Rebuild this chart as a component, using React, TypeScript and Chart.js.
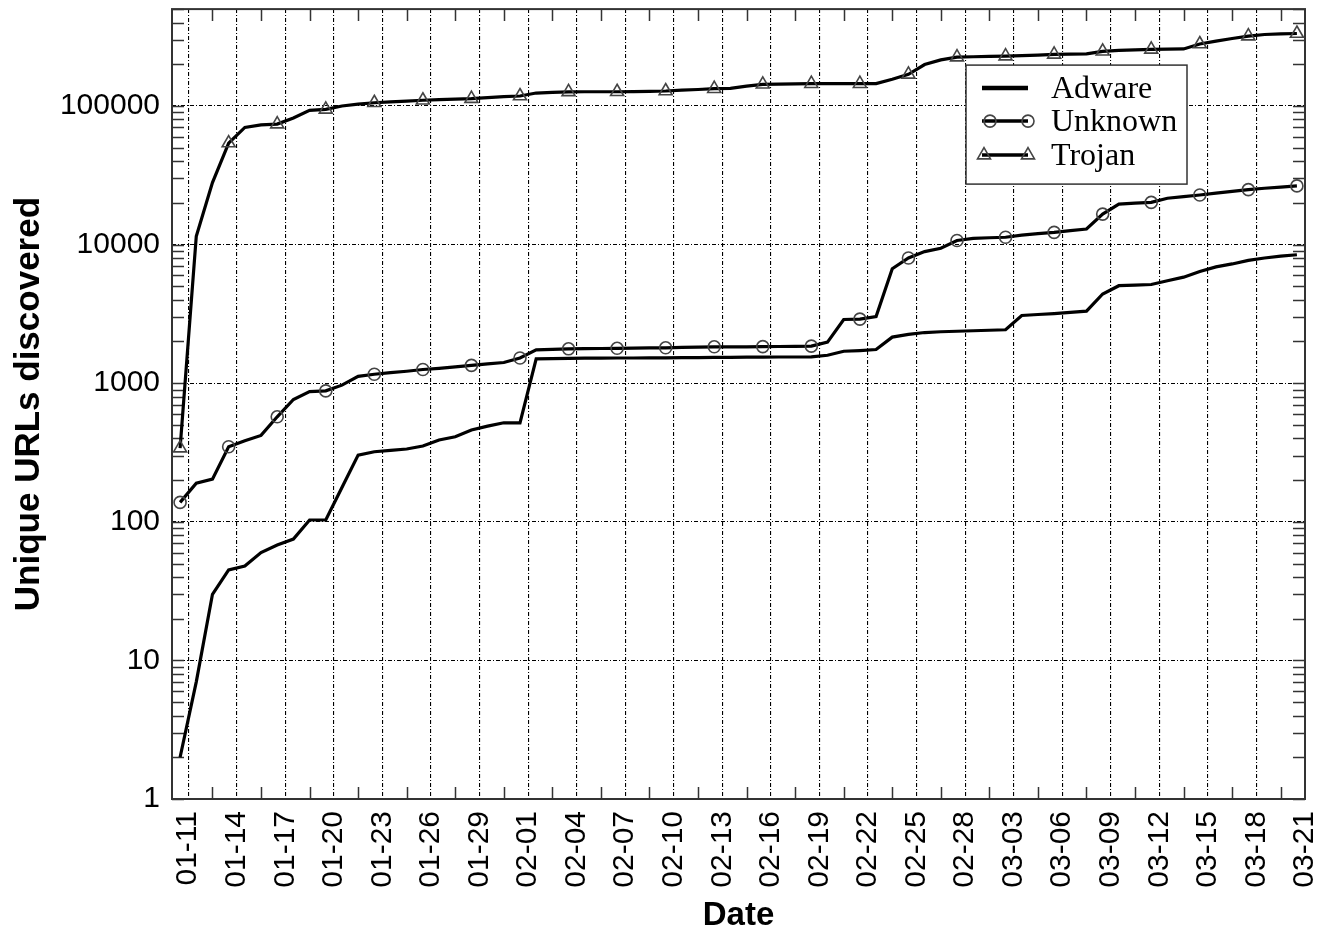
import React, { useEffect, useRef } from 'react';
import { Chart, registerables } from 'chart.js';

Chart.register(...registerables);

// Tick labels on the x axis (every 3rd day, day index 0 = 01-11)
const tickLabels = [
  '01-11', '01-14', '01-17', '01-20', '01-23', '01-26', '01-29', '02-01',
  '02-04', '02-07', '02-10', '02-13', '02-16', '02-19', '02-22', '02-25',
  '02-28', '03-03', '03-06', '03-09', '03-12', '03-15', '03-18', '03-21',
];

const yTickValues = [1, 10, 100, 1000, 10000, 100000];

const seriesNames = ['Adware', 'Unknown', 'Trojan'];

// daily cumulative counts, 70 days
const adware = [
  2, 7, 30, 45, 48, 60, 68, 75, 103, 103,
  177, 303, 320, 328, 335, 352, 389, 411, 459, 490,
  518, 518, 1500, 1505, 1510, 1515, 1515, 1520, 1520, 1525,
  1525, 1530, 1530, 1535, 1535, 1540, 1540, 1545, 1545, 1550,
  1590, 1700, 1720, 1750, 2150, 2250, 2320, 2350, 2370, 2390,
  2410, 2430, 3080, 3130, 3180, 3240, 3310, 4400, 5050, 5100,
  5150, 5480, 5820, 6400, 6900, 7250, 7700, 8000, 8250, 8450,
];

const unknown = [
  138, 190, 203, 348, 385, 420, 572, 763, 870, 880,
  968, 1120, 1160, 1190, 1220, 1255, 1280, 1310, 1345, 1380,
  1410, 1520, 1740, 1755, 1770, 1775, 1780, 1785, 1790, 1795,
  1800, 1810, 1820, 1830, 1830, 1830, 1835, 1840, 1845, 1850,
  1980, 2880, 2900, 3030, 6700, 8000, 8900, 9400, 10700, 11100,
  11200, 11300, 11700, 12000, 12250, 12600, 12950, 16600, 19600, 19900,
  20150, 21600, 22200, 22800, 23500, 24200, 24900, 25500, 26000, 26500,
];

const trojan = [
  340, 11500, 28000, 54000, 70000, 73000, 74000, 82000, 93000, 94500,
  100000, 103000, 105500, 107000, 108500, 110000, 111000, 112000, 113000, 115000,
  117000, 118000, 124000, 125500, 126500, 126700, 126700, 126700, 127000, 127500,
  128300, 130000, 131500, 133300, 134000, 139000, 143300, 144000, 144500, 144800,
  144800, 144800, 144800, 145000, 156000, 169000, 199000, 215000, 225000, 226500,
  228000, 229000, 231000, 233000, 235500, 236500, 237500, 248000, 252000, 254000,
  256000, 257000, 258000, 280000, 294000, 307000, 319000, 328000, 331000, 333500,
];

// samples taken at mid-day: shift half a day left of the date tick
const toPoints = (vals: number[]) => vals.map((v, i) => ({ x: i - 0.5, y: v }));

const FRAME = '#333333';
const MARKER = '#444444';
const CIRCLE_R = 6;
const TRI_R = 7.5;

const drawCircle = (ctx: CanvasRenderingContext2D, x: number, y: number, r: number) => {
  ctx.beginPath();
  ctx.arc(x, y, r, 0, Math.PI * 2);
  ctx.stroke();
};
const drawTriangle = (ctx: CanvasRenderingContext2D, x: number, y: number, r: number) => {
  ctx.beginPath();
  const a = -Math.PI / 2;
  ctx.moveTo(x + Math.cos(a) * r, y + Math.sin(a) * r);
  ctx.lineTo(x + Math.cos(a + (2 * Math.PI) / 3) * r, y + Math.sin(a + (2 * Math.PI) / 3) * r);
  ctx.lineTo(x + Math.cos(a + (4 * Math.PI) / 3) * r, y + Math.sin(a + (4 * Math.PI) / 3) * r);
  ctx.closePath();
  ctx.stroke();
};

const framePlugin = {
  id: 'frameAndLegend',
  beforeDatasetsDraw(chart: any) {
    const { ctx, chartArea: a, scales } = chart;
    const xs = scales.x;
    const ys = scales.y;
    ctx.save();
    ctx.strokeStyle = FRAME;
    ctx.lineWidth = 1.5;
    ctx.setLineDash([]);
    ctx.beginPath();
    // log minor ticks on left and right edges
    for (let d = 1; d <= 100000; d *= 10) {
      for (let k = 1; k <= 9; k++) {
        const v = d * k;
        if (v > ys.max) continue;
        const py = Math.round(ys.getPixelForValue(v)) + 0.5;
        ctx.moveTo(a.left, py);
        ctx.lineTo(a.left + 12, py);
        ctx.moveTo(a.right, py);
        ctx.lineTo(a.right - 12, py);
      }
    }
    // x minor ticks midway between labelled days
    for (let k = 0; k < tickLabels.length - 1; k++) {
      const px = Math.round(xs.getPixelForValue(k * 3 + 1.5)) + 0.5;
      ctx.moveTo(px, a.top);
      ctx.lineTo(px, a.top + 12);
      ctx.moveTo(px, a.bottom);
      ctx.lineTo(px, a.bottom - 12);
    }
    ctx.stroke();
    ctx.lineWidth = 2;
    ctx.strokeRect(a.left, a.top, a.right - a.left, a.bottom - a.top);
    ctx.restore();
  },
  afterDraw(chart: any) {
    const { ctx, chartArea: a } = chart;
    const bx = a.right - 339;
    const by = a.top + 56;
    const bw = 221;
    const bh = 119;
    ctx.save();
    ctx.fillStyle = '#ffffff';
    ctx.fillRect(bx, by, bw, bh);
    ctx.strokeStyle = FRAME;
    ctx.lineWidth = 1.5;
    ctx.strokeRect(bx, by, bw, bh);
    const rows = [by + 23, by + 56, by + 90];
    const x1 = bx + 16;
    const x2 = bx + 62;
    seriesNames.forEach((name, i) => {
      const y = rows[i];
      ctx.strokeStyle = '#000';
      ctx.lineWidth = i === 0 ? 4.5 : 3.5;
      ctx.beginPath();
      ctx.moveTo(x1, y);
      ctx.lineTo(x2, y);
      ctx.stroke();
      ctx.strokeStyle = MARKER;
      ctx.lineWidth = 1.6;
      if (i === 1) {
        drawCircle(ctx, x1 + 8, y, CIRCLE_R);
        drawCircle(ctx, x2, y, CIRCLE_R);
      } else if (i === 2) {
        drawTriangle(ctx, x1 + 2, y, TRI_R);
        drawTriangle(ctx, x2, y, TRI_R);
      }
      ctx.fillStyle = '#000';
      ctx.font = '32px "Liberation Serif", "Times New Roman", serif';
      ctx.textBaseline = 'middle';
      ctx.textAlign = 'left';
      ctx.fillText(name, bx + 85, y + 1);
    });
    ctx.restore();
  },
};

export default function App() {
  const ref = useRef<HTMLCanvasElement>(null);

  useEffect(() => {
    if (!ref.current) return;
    const markerRadius = (r: number) => (c: any) => (c.dataIndex % 3 === 0 ? r : 0);
    const chart = new Chart(ref.current, {
      type: 'line',
      data: {
        datasets: [
          {
            label: seriesNames[0],
            data: toPoints(adware),
            borderColor: '#000',
            borderWidth: 3.2,
            pointRadius: 0,
            tension: 0,
          },
          {
            label: seriesNames[1],
            data: toPoints(unknown),
            borderColor: '#000',
            borderWidth: 3.2,
            pointStyle: 'circle',
            pointRadius: markerRadius(CIRCLE_R),
            pointBorderColor: MARKER,
            pointBorderWidth: 1.6,
            pointBackgroundColor: 'rgba(0,0,0,0)',
            tension: 0,
          },
          {
            label: seriesNames[2],
            data: toPoints(trojan),
            borderColor: '#000',
            borderWidth: 3.2,
            pointStyle: 'triangle',
            pointRadius: markerRadius(TRI_R),
            pointBorderColor: MARKER,
            pointBorderWidth: 1.6,
            pointBackgroundColor: 'rgba(0,0,0,0)',
            tension: 0,
          },
        ],
      },
      options: {
        responsive: false,
        devicePixelRatio: 1,
        animation: false,
        events: [],
        layout: { padding: { left: 0, top: 7, right: 16, bottom: 0 } },
        plugins: {
          legend: { display: false },
          tooltip: { enabled: false },
        },
        scales: {
          x: {
            type: 'linear',
            min: -1,
            max: 69,
            afterBuildTicks: (s: any) => {
              s.ticks = tickLabels.map((_, k) => ({ value: k * 3 }));
            },
            afterFit: (s: any) => {
              s.height = 134;
              s.paddingLeft = 0;
              s.paddingRight = 0;
            },
            ticks: {
              autoSkip: false,
              maxRotation: 90,
              minRotation: 90,
              padding: 12,
              color: '#000',
              font: { family: '"Liberation Sans", Arial, sans-serif', size: 30 },
              callback: (_v: any, i: number) => tickLabels[i],
            },
            grid: { color: '#000', lineWidth: 1.1, drawTicks: false },
            border: { display: false, dash: [4, 2, 1, 2] },
            title: {
              display: true,
              text: 'Date',
              color: '#000',
              font: { family: '"Liberation Sans", Arial, sans-serif', size: 33, weight: 'bold', lineHeight: 1 },
              padding: { top: 0, bottom: 1 },
            },
          },
          y: {
            type: 'logarithmic',
            min: 1,
            max: 500000,
            afterBuildTicks: (s: any) => {
              s.ticks = yTickValues.map((v) => ({ value: v }));
            },
            afterFit: (s: any) => {
              s.width = 172;
              s.paddingTop = 0;
              s.paddingBottom = 0;
            },
            ticks: {
              autoSkip: false,
              padding: 12,
              color: '#000',
              font: { family: '"Liberation Sans", Arial, sans-serif', size: 30 },
              callback: (v: any) => String(v),
            },
            grid: { color: '#000', lineWidth: 1.1, drawTicks: false },
            border: { display: false, dash: [4, 2, 1, 2] },
            title: {
              display: true,
              text: 'Unique URLs discovered',
              color: '#000',
              font: { family: '"Liberation Sans", Arial, sans-serif', size: 35, weight: 'bold', lineHeight: 1 },
              padding: { top: 12, bottom: 0 },
            },
          },
        },
      },
      plugins: [framePlugin],
    } as any);
    return () => chart.destroy();
  }, []);

  return (
    <canvas
      ref={ref}
      width={1321}
      height={933}
      style={{ position: 'absolute', left: 0, top: 0, width: 1321, height: 933, display: 'block' }}
    />
  );
}
